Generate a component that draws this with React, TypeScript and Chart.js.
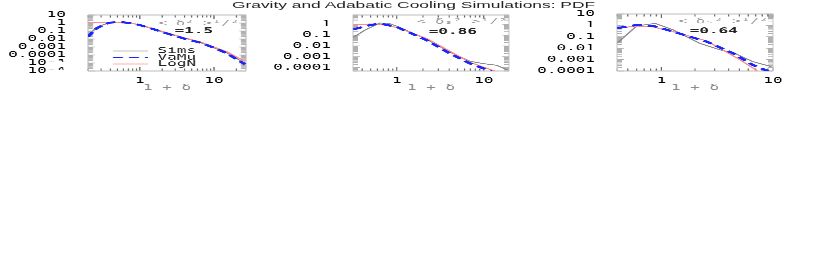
import React, { useEffect, useRef } from "react";
import { Chart, registerables } from "chart.js";

Chart.register(...registerables);

// ---------------- data ----------------
const chartTitle = "Gravity and Adabatic Cooling Simulations: PDF";
const seriesNames = ["Sims", "VaMu", "LogN"];
const xAxisTitle = "1 + δ";
const xTickValues = [1, 10];
const xTickLabels = ["1", "10"];

const p1YTickValues = [10, 1, 0.1, 0.01, 0.001, 0.0001, 1e-5, 1e-6];
const p1YTickLabels = ["10", "1", "0.1", "0.01", "0.001", "0.0001", "10⁻⁵", "10⁻⁶"];
const p2YTickValues = [1, 0.1, 0.01, 0.001, 0.0001];
const p2YTickLabels = ["1", "0.1", "0.01", "0.001", "0.0001"];
const p3YTickValues = [10, 1, 0.1, 0.01, 0.001, 0.0001];
const p3YTickLabels = ["10", "1", "0.1", "0.01", "0.001", "0.0001"];

const p1Note = ["< δ² >¹/²", "=1.5"];
const p2Note = ["< δₛ² >¹/²", "=0.86"];
const p3Note = ["< δₛ² >¹/²", "=0.64"];

// Panel 1
const p1SimsX = [0.2, 0.26, 0.32, 0.39, 0.5, 0.8, 1, 2.3, 6.5, 15, 26.3];
const p1SimsY = [0.03, 0.25, 0.6, 1.05, 1.25, 0.88, 0.57, 0.052, 0.0038, 1.8e-4, 9e-6];
const p1VaMuX = [0.2, 0.26, 0.32, 0.39, 0.5, 0.59, 0.8, 1, 1.5, 2.3, 4, 6.5, 10, 15, 20, 26.3];
const p1VaMuY = [0.0195, 0.21, 0.56, 1.1, 1.3, 1.25, 0.9, 0.55, 0.18, 0.05, 0.011, 0.0035, 8e-4, 1.6e-4, 3e-5, 7e-6];
const p1LogNX = [0.2, 0.32, 0.5, 0.8, 1, 1.5, 2.3, 4, 6.5, 10, 15, 20, 26.3];
const p1LogNY = [1.1, 1.2, 1.1, 0.83, 0.63, 0.2, 0.063, 0.014, 0.0045, 1.0e-3, 2.5e-4, 6e-5, 1.6e-5];

// Panel 2
const p2SimsX = [0.314, 0.43, 0.64, 0.83, 1, 2.2, 4.1, 6.9, 9.8, 14, 19];
const p2SimsY = [0.06, 0.28, 1.3, 1.12, 0.66, 0.042, 0.0027, 4e-4, 2.4e-4, 1.7e-4, 6e-5];
const p2VaMuX = [0.314, 0.49, 0.64, 1, 2.2, 4.1, 6.9, 11.8, 13];
const p2VaMuY = [0.33, 0.81, 1.15, 0.56, 0.034, 0.002, 2.5e-4, 5.2e-5, 3e-5];
const p2LogNX = [0.314, 0.49, 0.64, 1, 2.2, 4.1, 6.9, 14];
const p2LogNY = [0.81, 1.05, 0.98, 0.5, 0.049, 0.0032, 3.2e-4, 4.3e-5];

// Panel 3
const p3SimsX = [0.4, 0.6, 0.88, 1.28, 2.2, 3.4, 4.4, 6.6, 9.7];
const p3SimsY = [0.027, 0.89, 1.5, 0.4, 0.027, 0.0069, 0.0041, 6.6e-4, 2.4e-4];
const p3VaMuX = [0.4, 0.6, 0.85, 1.28, 2.56, 4.4, 6.6, 8.8, 10];
const p3VaMuY = [0.56, 1.1, 0.89, 0.28, 0.037, 0.0035, 3.4e-4, 1.07e-4, 5e-5];
const p3LogNX = [0.4, 0.6, 0.85, 1.28, 2.56, 5.1, 7.2];
const p3LogNY = [0.56, 0.89, 0.72, 0.28, 0.043, 9.3e-4, 1.07e-4];

// ---------------- layout / style ----------------
const SX = 2; // horizontal stretch of the whole figure
const FONT = "'DejaVu Sans Mono', monospace";
const H = 100;

const COLORS = { Sims: "#8a8a8a", VaMu: "#1a26ff", LogN: "#ff8c8c" };

type Panel = {
  left: number; width: number; plotLeft: number; plotRight: number; plotTop: number; plotBottom: number;
  xMin: number; xMax: number; yMin: number; yMax: number;
  yTicks: number[]; yLabels: string[];
  sims: [number[], number[]]; vamu: [number[], number[]]; logn: [number[], number[]];
  note: string[]; notePos: number[]; legend: boolean;
};

const panels: Panel[] = [
  {
    left: 0, width: 132, plotLeft: 44, plotRight: 123, plotTop: 15, plotBottom: 71,
    xMin: 0.2, xMax: 27, yMin: 1e-6, yMax: 10, yTicks: p1YTickValues, yLabels: p1YTickLabels,
    sims: [p1SimsX, p1SimsY], vamu: [p1VaMuX, p1VaMuY], logn: [p1LogNX, p1LogNY],
    note: p1Note, notePos: [0.70, 0.15, 0.67, 0.29], legend: true,
  },
  {
    left: 132, width: 132, plotLeft: 176.5, plotRight: 254.5, plotTop: 15, plotBottom: 71,
    xMin: 0.314, xMax: 19.5, yMin: 5e-5, yMax: 7, yTicks: p2YTickValues, yLabels: p2YTickLabels,
    sims: [p2SimsX, p2SimsY], vamu: [p2VaMuX, p2VaMuY], logn: [p2LogNX, p2LogNY],
    note: p2Note, notePos: [0.70, 0.12, 0.64, 0.30], legend: false,
  },
  {
    left: 264, width: 140, plotLeft: 308.5, plotRight: 386.5, plotTop: 14, plotBottom: 71,
    xMin: 0.4, xMax: 10, yMin: 1e-4, yMax: 10, yTicks: p3YTickValues, yLabels: p3YTickLabels,
    sims: [p3SimsX, p3SimsY], vamu: [p3VaMuX, p3VaMuY], logn: [p3LogNX, p3LogNY],
    note: p3Note, notePos: [0.68, 0.13, 0.62, 0.30], legend: false,
  },
];

const zip = (xs: number[], ys: number[]) => xs.map((x, i) => ({ x, y: ys[i] }));

const framePlugin = {
  id: "frame",
  beforeDatasetsDraw(chart: any) {
    const { ctx, chartArea } = chart;
    const { left, right, top, bottom } = chartArea;
    const xs = chart.scales.x;
    const ys = chart.scales.y;
    ctx.save();
    ctx.strokeStyle = "#b0b0b0";
    ctx.lineWidth = 0.8;
    const d0 = Math.floor(Math.log10(ys.min));
    const d1 = Math.ceil(Math.log10(ys.max));
    for (let d = d0; d <= d1; d++) {
      for (let m = 1; m <= 9; m++) {
        const v = m * Math.pow(10, d);
        if (v < ys.min * 0.999 || v > ys.max * 1.001) continue;
        const py = ys.getPixelForValue(v);
        const len = m === 1 ? 3.5 : 2.5;
        ctx.beginPath();
        ctx.moveTo(left, py); ctx.lineTo(left + len, py);
        ctx.moveTo(right, py); ctx.lineTo(right - len, py);
        ctx.stroke();
      }
    }
    ctx.strokeStyle = "#444";
    ctx.lineWidth = 0.5;
    const e0 = Math.floor(Math.log10(xs.min));
    const e1 = Math.ceil(Math.log10(xs.max));
    for (let d = e0; d <= e1; d++) {
      for (let m = 1; m <= 9; m++) {
        const v = m * Math.pow(10, d);
        if (v < xs.min * 0.999 || v > xs.max * 1.001) continue;
        const px = xs.getPixelForValue(v);
        const len = m === 1 ? 4 : 2.5;
        ctx.beginPath();
        ctx.moveTo(px, bottom); ctx.lineTo(px, bottom - len);
        ctx.moveTo(px, top); ctx.lineTo(px, top + len);
        ctx.stroke();
      }
    }
    ctx.strokeStyle = "#bdbdbd";
    ctx.lineWidth = 1;
    ctx.beginPath();
    ctx.moveTo(left, top); ctx.lineTo(right, top);
    ctx.moveTo(left, bottom); ctx.lineTo(right, bottom);
    ctx.stroke();
    ctx.lineWidth = 0.5;
    ctx.beginPath();
    ctx.moveTo(left, top); ctx.lineTo(left, bottom);
    ctx.moveTo(right, top); ctx.lineTo(right, bottom);
    ctx.stroke();
    ctx.restore();
  },
};

const textPlugin = {
  id: "panelText",
  afterDatasetsDraw(chart: any, _args: any, opts: any) {
    const { ctx, chartArea } = chart;
    const { left, top } = chartArea;
    const w = chartArea.right - chartArea.left;
    const h = chartArea.bottom - chartArea.top;
    ctx.save();
    ctx.textAlign = "center";
    ctx.textBaseline = "middle";
    const [ax, ay, bx, by] = opts.pos;
    ctx.fillStyle = "#999";
    ctx.font = `7.5px ${FONT}`;
    ctx.fillText(opts.note[0], left + ax * w, top + ay * h);
    ctx.fillStyle = "#222";
    ctx.font = `bold 8px ${FONT}`;
    ctx.fillText(opts.note[1], left + bx * w, top + by * h);
    if (opts.legend) {
      const rows = [
        { name: seriesNames[0], color: "#c4c4c4", dash: [], lw: 1 },
        { name: seriesNames[1], color: COLORS.VaMu, dash: [5, 3], lw: 1.6 },
        { name: seriesNames[2], color: "#ffb0b0", dash: [], lw: 1 },
      ];
      const fys = [0.643, 0.759, 0.875];
      rows.forEach((r, i) => {
        const y = top + fys[i] * h;
        ctx.strokeStyle = r.color;
        ctx.lineWidth = r.lw;
        ctx.setLineDash(r.dash);
        ctx.beginPath();
        ctx.moveTo(left + 0.158 * w, y);
        ctx.lineTo(left + 0.38 * w, y);
        ctx.stroke();
        ctx.setLineDash([]);
        ctx.fillStyle = "#222";
        ctx.textAlign = "left";
        ctx.font = `8px ${FONT}`;
        ctx.fillText(r.name, left + 0.44 * w, y);
      });
    }
    ctx.restore();
  },
};

function makeConfig(p: Panel): any {
  return {
    type: "scatter",
    data: {
      datasets: [
        { label: seriesNames[0], data: zip(p.sims[0], p.sims[1]), borderColor: COLORS.Sims, borderWidth: 0.9, showLine: true, pointRadius: 0, order: 3 },
        { label: seriesNames[2], data: zip(p.logn[0], p.logn[1]), borderColor: COLORS.LogN, borderWidth: 1, showLine: true, pointRadius: 0, order: 2 },
        { label: seriesNames[1], data: zip(p.vamu[0], p.vamu[1]), borderColor: COLORS.VaMu, borderWidth: 2, borderDash: [5, 3], showLine: true, pointRadius: 0, order: 1 },
      ],
    },
    options: {
      animation: false,
      responsive: true,
      maintainAspectRatio: false,
      devicePixelRatio: 3,
      layout: { padding: { top: p.plotTop, right: p.left + p.width - p.plotRight, left: 0, bottom: 0 } },
      plugins: {
        legend: { display: false },
        tooltip: { enabled: false },
        panelText: { note: p.note, pos: p.notePos, legend: p.legend },
      },
      scales: {
        x: {
          type: "logarithmic",
          bounds: "data",
          min: p.xMin,
          max: p.xMax,
          grid: { display: false },
          border: { display: false },
          afterBuildTicks: (s: any) => {
            s.ticks = xTickValues.filter((v) => v >= p.xMin && v <= p.xMax).map((v) => ({ value: v }));
          },
          afterFit: (s: any) => {
            s.height = H - p.plotBottom;
            s.paddingLeft = 0;
            s.paddingRight = 0;
          },
          ticks: {
            autoSkip: false,
            maxRotation: 0,
            minRotation: 0,
            padding: -2,
            color: "#000",
            font: { family: FONT, size: 8, lineHeight: 1 },
            callback: (v: number) => {
              const i = xTickValues.indexOf(v);
              return i >= 0 ? xTickLabels[i] : "";
            },
          },
          title: {
            display: true,
            text: xAxisTitle,
            color: "#8c8c8c",
            font: { family: FONT, size: 8, lineHeight: 1 },
            padding: { top: 0, bottom: 8 },
          },
        },
        y: {
          type: "logarithmic",
          bounds: "data",
          min: p.yMin,
          max: p.yMax,
          grid: { display: false },
          border: { display: false },
          afterBuildTicks: (s: any) => {
            s.ticks = p.yTicks.filter((v) => v >= p.yMin && v <= p.yMax).map((v) => ({ value: v }));
          },
          afterFit: (s: any) => {
            s.width = p.plotLeft - p.left;
          },
          ticks: {
            autoSkip: false,
            padding: 3,
            color: "#000",
            font: { family: FONT, size: 8, lineHeight: 1 },
            callback: (v: number) => {
              const i = p.yTicks.indexOf(v);
              return i >= 0 ? p.yLabels[i] : "";
            },
          },
        },
      },
    },
    plugins: [framePlugin, textPlugin],
  };
}

function PanelChart({ p }: { p: Panel }) {
  const ref = useRef<HTMLCanvasElement | null>(null);
  useEffect(() => {
    if (!ref.current) return;
    const chart = new Chart(ref.current, makeConfig(p));
    return () => chart.destroy();
  }, [p]);
  return (
    <div style={{ position: "absolute", left: p.left, top: 0, width: p.width, height: H }}>
      <canvas ref={ref} />
    </div>
  );
}

export default function App() {
  return (
    <div style={{ position: "absolute", left: 0, top: 0, width: 817, height: 273, background: "#fff", overflow: "hidden" }}>
      <div
        style={{
          position: "absolute",
          left: 0,
          top: 0,
          width: 817 / SX,
          height: 273,
          transform: `scaleX(${SX})`,
          transformOrigin: "0 0",
        }}
      >
        <div
          style={{
            position: "absolute",
            left: 0,
            top: 1,
            width: 413.5,
            textAlign: "center",
            fontFamily: "'Liberation Sans', Arial, sans-serif",
            fontSize: 8.7,
            lineHeight: "9px",
            color: "#222",
            whiteSpace: "nowrap",
          }}
        >
          {chartTitle}
        </div>
        {panels.map((p, i) => (
          <PanelChart key={i} p={p} />
        ))}
      </div>
    </div>
  );
}
